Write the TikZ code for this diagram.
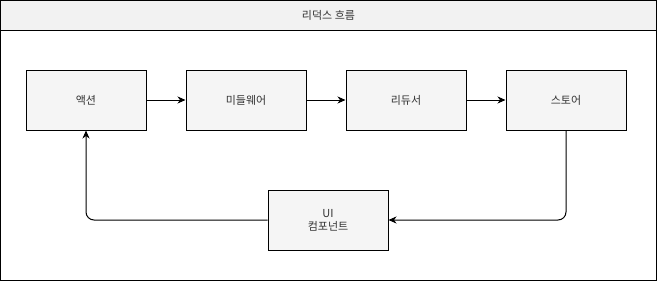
\documentclass[tikz,border=0pt]{standalone}
\usepackage{fontspec}
\newfontfamily\kr{Noto Sans CJK KR}
\usetikzlibrary{arrows.meta}
\definecolor{boxfill}{HTML}{F5F5F5}
\definecolor{titlefill}{HTML}{F2F2F2}
\definecolor{linec}{HTML}{000000}
\tikzset{
  stepbox/.style={draw=linec, fill=boxfill, line width=1pt, minimum width=120pt, minimum height=60pt, inner sep=0pt, font=\kr\fontsize{11}{13}\selectfont, text=black!80, align=center},
  flow/.style={draw=linec, line width=1pt, -{Stealth[length=8pt,width=7pt,inset=2.5pt]}, rounded corners=8pt}
}
\begin{document}
\begin{tikzpicture}[x=1pt,y=-1pt]
\useasboundingbox (0,0) rectangle (657,281);
\fill[titlefill] (0.5,0.5) rectangle (656.5,30);
\draw[linec, line width=1pt] (0.5,0.5) rectangle (656.5,280.5);
\draw[linec, line width=1pt] (0.5,30) -- (656.5,30);
\node[font=\kr\fontsize{11}{13}\selectfont, text=black!80] (title) at (328.5,15.5) {리덕스 흐름};
\node[stepbox] (action) at (86,100) {액션};
\node[stepbox] (mw) at (246,100) {미들웨어};
\node[stepbox] (red) at (406,100) {리듀서};
\node[stepbox] (store) at (566,100) {스토어};
\node[stepbox] (ui) at (328,220) {UI\\컴포넌트};
\draw[flow] (action) -- (mw);
\draw[flow] (mw) -- (red);
\draw[flow] (red) -- (store);
\draw[flow] (store.south) |- (ui.east);
\draw[flow] (ui.west) -| (action.south);
\end{tikzpicture}
\end{document}
